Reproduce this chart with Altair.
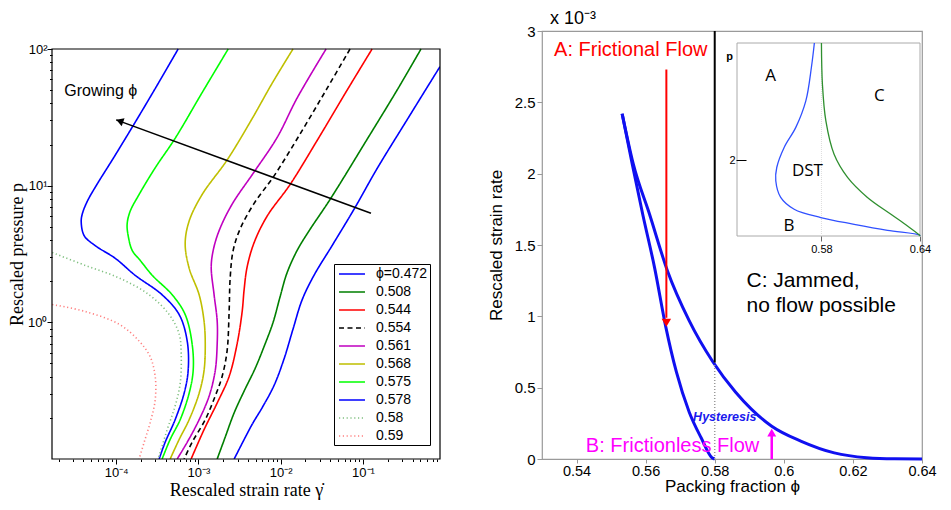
import altair as alt
import pandas as pd

# ---------------- left panel: rescaled pressure p vs rescaled strain rate ----------------
PHI_LABELS = ["ϕ=0.472", "0.508", "0.544", "0.554", "0.561", "0.568", "0.575", "0.578", "0.58", "0.59"]
PHI_COLORS = ["#0000ff", "#007f00", "#ff0000", "#000000", "#c000c0", "#bfbf00",
              "#00ff00", "#0000ff", "#80c080", "#ff8080"]
PHI_DASHES = [[1, 0], [1, 0], [1, 0], [5, 3.5], [1, 0], [1, 0], [1, 0], [1, 0], [1.2, 2.6], [1.2, 2.6]]

G_0472 = [0.862, 0.343, 0.148, 0.0778, 0.0421, 0.0254, 0.0182, 0.0141, 0.0110, 0.00831, 0.00594, 0.00449, 0.00272]
P_0472 = [74.3, 30.3, 13.3, 6.72, 3.64, 2.21, 1.46, 0.891, 0.542, 0.346, 0.237, 0.179, 0.1]
G_0508 = [0.507, 0.259, 0.112, 0.0398, 0.0221, 0.0158, 0.0119, 0.00983, 0.00808, 0.00646, 0.00488, 0.00359, 0.00272, 0.00211, 0.00169]
P_0508 = [100, 49.9, 21.8, 7.93, 4.67, 3.35, 2.29, 1.54, 1.0, 0.695, 0.459, 0.314, 0.218, 0.144, 0.1]
G_0544 = [0.129, 0.0640, 0.0277, 0.0130, 0.00683, 0.00475, 0.00390, 0.00359, 0.00340, 0.00295, 0.00236, 0.00169, 0.00117, 0.000815]
P_0544 = [100, 49.9, 21.4, 10.2, 5.98, 3.83, 2.53, 1.73, 1.20, 0.695, 0.402, 0.257, 0.164, 0.1]
G_0554 = [0.0696, 0.0366, 0.0182, 0.00831, 0.00475, 0.00321, 0.00264, 0.00243, 0.00236, 0.00223, 0.00194, 0.00160, 0.00121, 0.000838, 0.000670]
P_0554 = [100, 51.5, 25.3, 11.8, 7.42, 4.82, 3.35, 2.11, 1.20, 0.619, 0.402, 0.289, 0.194, 0.1326, 0.1]
G_0561 = [0.0356, 0.0158, 0.00904, 0.00475, 0.00256, 0.00178, 0.00151, 0.00143, 0.00155, 0.00169, 0.00169, 0.00160, 0.00135, 0.00102, 0.000730, 0.000551]
P_0561 = [100, 43.7, 22.5, 12.6, 7.30, 4.67, 3.35, 2.53, 1.59, 1.02, 0.695, 0.444, 0.289, 0.194, 0.1326, 0.1]
G_0568 = [0.0141, 0.00785, 0.00449, 0.00223, 0.00111, 0.000771, 0.000690, 0.000771, 0.00102, 0.00117, 0.00121, 0.00117, 0.00102, 0.000771, 0.000583, 0.000453]
P_0568 = [100, 56.0, 30.9, 15.4, 8.62, 5.51, 3.76, 2.49, 1.59, 1.02, 0.695, 0.444, 0.303, 0.194, 0.139, 0.1]
G_0575 = [0.00230, 0.00108, 0.000521, 0.000298, 0.000190, 0.000148, 0.000136, 0.000140, 0.000157, 0.000196, 0.000274, 0.000480, 0.000690, 0.000838, 0.000863, 0.000771, 0.000600, 0.000453, 0.000362]
P_0575 = [100, 46.7, 22.2, 13.5, 8.62, 6.50, 5.24, 4.30, 3.35, 2.84, 2.21, 1.59, 1.14, 0.695, 0.444, 0.303, 0.194, 0.139, 0.1]
G_0578 = [0.000567, 0.000290, 0.000148, 0.0000895, 0.0000589, 0.0000445, 0.0000387, 0.0000376, 0.0000409, 0.0000557, 0.0000975, 0.000170, 0.000362, 0.000583, 0.000730, 0.000750, 0.000670, 0.000521, 0.000394, 0.000333]
P_0578 = [100, 49.9, 25.3, 15.4, 10.3, 7.67, 6.19, 5.42, 4.30, 3.64, 2.94, 2.21, 1.59, 1.14, 0.730, 0.444, 0.303, 0.194, 0.1326, 0.1]
G_0580 = [0.0000167, 0.0000421, 0.000109, 0.000252, 0.000441, 0.000583, 0.000617, 0.000600, 0.000521, 0.000417, 0.000324]
P_0580 = [3.24, 2.61, 2.11, 1.59, 1.14, 0.820, 0.589, 0.358, 0.2446, 0.164, 0.1]
G_0590 = [0.0000167, 0.0000421, 0.000109, 0.000190, 0.000259, 0.000298, 0.000298, 0.000259, 0.000219, 0.000190]
P_0590 = [1.35, 1.20, 0.967, 0.730, 0.560, 0.402, 0.270, 0.1846, 0.1326, 0.1]

LEFT_G = [G_0472, G_0508, G_0544, G_0554, G_0561, G_0568, G_0575, G_0578, G_0580, G_0590]
LEFT_P = [P_0472, P_0508, P_0544, P_0554, P_0561, P_0568, P_0575, P_0578, P_0580, P_0590]

ARROW_G = [0.125, 0.0001]
ARROW_P = [6.29, 30.3]
ARROW_HEAD = (0.000114, 29.5)
GROW_TEXT = ("Growing ϕ", 0.0000234, 49.1)

LX_DOMAIN = [1.66e-5, 0.863]
LY_DOMAIN = [0.1, 100]

# ---------------- right panel: strain rate vs packing fraction ----------------
UP_PHI = [0.5532, 0.5564, 0.5612, 0.5663, 0.5726, 0.5795, 0.5860, 0.5906, 0.5965, 0.6049, 0.6146, 0.6240, 0.6320, 0.6400]
UP_G = [2.42, 2.07, 1.71, 1.32, 0.97, 0.68, 0.47, 0.35, 0.23, 0.126, 0.043, 0.009, 0.001, 0.0]
LO_PHI = [0.5532, 0.5561, 0.5592, 0.5626, 0.5658, 0.5689, 0.5726, 0.5761, 0.5792, 0.5800]
LO_G = [2.42, 2.07, 1.71, 1.34, 0.93, 0.61, 0.33, 0.147, 0.009, 0.0]

PHI_J = 0.58
G_CROSS = 0.677
RED_ARROW = (0.566, 2.73, 0.99, 0.955)     # x, y start, y end, head centre
MAG_ARROW = (0.5965, 0.0, 0.17, 0.185)

RX_DOMAIN = [0.53, 0.64]
RY_DOMAIN = [0.0, 3.0]

# inset
IN_BLUE_PHI = [0.5757, 0.5739, 0.5705, 0.5644, 0.5573, 0.5528, 0.5522, 0.5552, 0.5634, 0.5796, 0.5999, 0.6202, 0.6396, 0.64]
IN_BLUE_P = [5.1, 4.46, 3.57, 2.87, 2.34, 1.81, 1.46, 1.02, 0.707, 0.487, 0.310, 0.151, 0.026, 0.0]
IN_GREEN_PHI = [0.5800, 0.5806, 0.5827, 0.5877, 0.5959, 0.6080, 0.6223, 0.6324, 0.6396, 0.64]
IN_GREEN_P = [5.1, 4.01, 3.04, 2.16, 1.55, 1.02, 0.574, 0.265, 0.026, 0.0]
IN_X_DOMAIN = [0.5286, 0.64]
IN_Y_DOMAIN = [0.0, 5.1]
IN_TEXT = ["A", "C", "DST", "B"]
IN_TEXT_PHI = [0.5491, 0.6152, 0.5715, 0.5603]
IN_TEXT_P = [4.23, 3.71, 1.72, 0.265]

SANS = "Liberation Sans"
SERIF = "Liberation Serif"

# ======================= LEFT CHART =======================
rows = []
for lab, gs, ps in zip(PHI_LABELS, LEFT_G, LEFT_P):
    for i, (g, p) in enumerate(zip(gs, ps)):
        rows.append({"phi": lab, "i": i, "gamma": g, "p": p})
left_df = pd.DataFrame(rows)

X_TICKS = [m * 10.0 ** e for e in range(-5, 0) for m in range(1, 10)
           if LX_DOMAIN[0] <= m * 10.0 ** e <= LX_DOMAIN[1]]
Y_TICKS = [m * 10.0 ** e for e in range(-1, 3) for m in range(1, 10)
           if LY_DOMAIN[0] < m * 10.0 ** e <= LY_DOMAIN[1]]

LEFT_H = 428          # group height; the plot frame occupies its lower part
LEFT_TOP = 18

lxs = alt.Scale(type="log", domain=LX_DOMAIN, nice=False)
lys = alt.Scale(type="log", domain=LY_DOMAIN, nice=False, range=[LEFT_H, LEFT_TOP])

left_x_axis = alt.Axis(
    values=X_TICKS,
    labelExpr="datum.value==0.0001?'10⁻⁴':datum.value==0.001?'10⁻³':datum.value==0.01?'10⁻²':datum.value==0.1?'10⁻¹':''",
    tickSize={"condition": {"test": "indexof([0.0001,0.001,0.01,0.1], datum.value) >= 0", "value": 5}, "value": 2.5},
    tickColor="black", domain=False, grid=False, labelOverlap=False, labelFlush=False,
    labelFont=SANS, labelFontSize=13, labelColor="black", labelPadding=2,
    title="Rescaled strain rate γ̇", titleFont=SERIF, titleFontSize=18, titleFontWeight="normal",
    titleColor="black", titlePadding=2)
left_y_axis = alt.Axis(
    values=Y_TICKS,
    labelExpr="datum.value==1?'10⁰':datum.value==10?'10¹':datum.value==100?'10²':''",
    tickSize={"condition": {"test": "indexof([1,10,100], datum.value) >= 0", "value": 5}, "value": 2.5},
    tickColor="black", domain=False, grid=False, labelOverlap=False, labelFlush=False,
    labelFont=SANS, labelFontSize=13, labelColor="black", labelPadding=0,
    title="Rescaled pressure p", titleFont=SERIF, titleFontSize=18, titleFontWeight="normal",
    titleColor="black", titlePadding=1)

legend_common = dict(orient="none", legendX=282, legendY=233, title=None, strokeColor="black",
                     fillColor="white", padding=2, labelFont=SANS, labelFontSize=14,
                     labelColor="black", symbolType="M-1.857,0H1.857", symbolSize=196,
                     symbolStrokeWidth=1.6, symbolOffset=8, labelOffset=16, rowPadding=3,
                     cornerRadius=0)

curves = alt.Chart(left_df).mark_line(strokeWidth=1.6, interpolate="catmull-rom", clip=True).encode(
    x=alt.X("gamma:Q", scale=lxs, axis=left_x_axis),
    y=alt.Y("p:Q", scale=lys, axis=left_y_axis),
    color=alt.Color("phi:N", scale=alt.Scale(domain=PHI_LABELS, range=PHI_COLORS),
                    sort=PHI_LABELS, legend=alt.Legend(**legend_common)),
    strokeDash=alt.StrokeDash("phi:N", scale=alt.Scale(domain=PHI_LABELS, range=PHI_DASHES),
                              sort=PHI_LABELS, legend=alt.Legend(**legend_common)),
    detail="phi:N",
    order="i:Q",
)

frame_left = alt.Chart(pd.DataFrame({"x": [LX_DOMAIN[0]], "x2": [LX_DOMAIN[1]],
                                     "y": [LY_DOMAIN[0]], "y2": [LY_DOMAIN[1]]})).mark_rect(
    fillOpacity=0, stroke="black", strokeWidth=1.2).encode(
    x=alt.X("x:Q", scale=lxs), x2="x2:Q", y=alt.Y("y:Q", scale=lys), y2="y2:Q")

arrow_df = pd.DataFrame({"gamma": ARROW_G, "p": ARROW_P, "i": [0, 1]})
arrow_line = alt.Chart(arrow_df).mark_line(color="black", strokeWidth=1.5).encode(
    x=alt.X("gamma:Q", scale=lxs), y=alt.Y("p:Q", scale=lys), order="i:Q")
head_df = pd.DataFrame({"gamma": [ARROW_HEAD[0]], "p": [ARROW_HEAD[1]]})
arrow_head = alt.Chart(head_df).mark_point(shape="triangle", filled=True, color="black",
                                           size=70, angle=290, opacity=1).encode(
    x=alt.X("gamma:Q", scale=lxs), y=alt.Y("p:Q", scale=lys))
grow_df = pd.DataFrame({"t": [GROW_TEXT[0]], "gamma": [GROW_TEXT[1]], "p": [GROW_TEXT[2]]})
grow_text = alt.Chart(grow_df).mark_text(align="left", baseline="middle", font=SANS,
                                         fontSize=16, color="black").encode(
    x=alt.X("gamma:Q", scale=lxs), y=alt.Y("p:Q", scale=lys), text="t:N")

left = alt.layer(curves, frame_left, arrow_line, arrow_head, grow_text).properties(
    width=388, height=LEFT_H,
    view=alt.ViewBackground(stroke="transparent"),
)

# ======================= RIGHT CHART =======================
RIGHT_W = 380
RIGHT_H = 428
rxs = alt.Scale(domain=RX_DOMAIN, nice=False, zero=False)
rys = alt.Scale(domain=RY_DOMAIN, nice=False)

right_x_axis = alt.Axis(
    values=[0.54, 0.56, 0.58, 0.6, 0.62, 0.64], labelExpr="'' + datum.value",
    tickSize=4, tickColor="#999", domain=False, grid=False, labelFlush=False, labelOverlap=False,
    labelFont=SANS, labelFontSize=14.5, labelColor="black", labelPadding=1,
    title="Packing fraction ϕ", titleFont=SANS, titleFontSize=17, titleFontWeight="normal",
    titleColor="black", titlePadding=1)
right_y_axis = alt.Axis(
    values=[0, 0.5, 1, 1.5, 2, 2.5, 3], labelExpr="'' + datum.value",
    tickSize=5, tickColor="#999", domain=False, grid=False, labelFlush=False, labelOverlap=False,
    labelFont=SANS, labelFontSize=15, labelColor="black", labelPadding=2,
    title="Rescaled strain rate", titleFont=SANS, titleFontSize=17, titleFontWeight="normal",
    titleColor="black", titlePadding=9)

branch_rows = []
for name, xs, ys in (("upper", UP_PHI, UP_G), ("lower", LO_PHI, LO_G)):
    for i, (a, b) in enumerate(zip(xs, ys)):
        branch_rows.append({"branch": name, "i": i, "phi": a, "g": b})
branch_df = pd.DataFrame(branch_rows)

branches = alt.Chart(branch_df).mark_line(color="#1010f0", strokeWidth=3, interpolate="monotone").encode(
    x=alt.X("phi:Q", scale=rxs, axis=right_x_axis),
    y=alt.Y("g:Q", scale=rys, axis=right_y_axis),
    detail="branch:N", order="i:Q")

jam_line = alt.Chart(pd.DataFrame({"x": [PHI_J], "y": [G_CROSS], "y2": [RY_DOMAIN[1]]})).mark_rule(
    color="black", strokeWidth=2).encode(
    x=alt.X("x:Q", scale=rxs), y=alt.Y("y:Q", scale=rys), y2="y2:Q")
jam_dot = alt.Chart(pd.DataFrame({"x": [PHI_J], "y": [0.0], "y2": [G_CROSS]})).mark_rule(
    color="#999999", strokeWidth=1.5, strokeDash=[1, 2]).encode(
    x=alt.X("x:Q", scale=rxs), y=alt.Y("y:Q", scale=rys), y2="y2:Q")

red_rule = alt.Chart(pd.DataFrame({"x": [RED_ARROW[0]], "y": [RED_ARROW[1]], "y2": [RED_ARROW[2]]})).mark_rule(
    color="#ff0000", strokeWidth=2).encode(x=alt.X("x:Q", scale=rxs), y=alt.Y("y:Q", scale=rys), y2="y2:Q")
red_head = alt.Chart(pd.DataFrame({"x": [RED_ARROW[0]], "y": [RED_ARROW[3]]})).mark_point(
    shape="triangle-down", filled=True, color="#ff0000", size=90, opacity=1).encode(
    x=alt.X("x:Q", scale=rxs), y=alt.Y("y:Q", scale=rys))
mag_rule = alt.Chart(pd.DataFrame({"x": [MAG_ARROW[0]], "y": [MAG_ARROW[1]], "y2": [MAG_ARROW[2]]})).mark_rule(
    color="#ff00ff", strokeWidth=2.5).encode(x=alt.X("x:Q", scale=rxs), y=alt.Y("y:Q", scale=rys), y2="y2:Q")
mag_head = alt.Chart(pd.DataFrame({"x": [MAG_ARROW[0]], "y": [MAG_ARROW[3]]})).mark_point(
    shape="triangle-up", filled=True, color="#ff00ff", size=80, opacity=1).encode(
    x=alt.X("x:Q", scale=rxs), y=alt.Y("y:Q", scale=rys))


def label(text, x, y, color, size, align="left", weight="normal", style="normal"):
    df = pd.DataFrame({"t": [text], "x": [x], "y": [y]})
    return alt.Chart(df).mark_text(align=align, baseline="middle", font=SANS, fontSize=size,
                                   color=color, fontWeight=weight, fontStyle=style).encode(
        x=alt.X("x:Q", scale=rxs), y=alt.Y("y:Q", scale=rys), text="t:N")


txt_a = label("A: Frictional Flow", 0.5335, 2.865, "#ff0000", 20)
txt_c1 = label("C: Jammed,", 0.5892, 1.248, "black", 21)
txt_c2 = label("no flow possible", 0.5892, 1.069, "black", 21)
txt_h = label("Hysteresis", 0.5829, 0.291, "#1a1aee", 12.5, align="center", weight="bold", style="italic")
txt_b = label("B: Frictionless Flow", 0.5427, 0.092, "#ff00ff", 20)

main_right = alt.layer(branches, jam_dot, jam_line, red_rule, red_head, mag_rule, mag_head,
                       txt_a, txt_c1, txt_c2, txt_h, txt_b)

# ----- inset -----
ixs = alt.Scale(domain=IN_X_DOMAIN, range=[195, 378], nice=False, zero=False)
iys = alt.Scale(domain=IN_Y_DOMAIN, range=[205, 12], nice=False, zero=False)
inset_x_axis = alt.Axis(orient="bottom", offset=-(RIGHT_H - 205), values=[0.58, 0.64], labelExpr="'' + datum.value",
                        tickSize=5, tickColor="#666", domain=False, grid=False, labelFlush=False,
                        labelFont=SANS, labelFontSize=11, labelColor="black", labelPadding=2,
                        title=None, zindex=2)
inset_y_axis = alt.Axis(orient="left", offset=-204, values=[2], labelExpr="'2'",
                        tickSize=10, tickColor="black", domain=False, grid=False, labelFlush=False,
                        labelFont=SANS, labelFontSize=11, labelColor="black", labelPadding=1,
                        title=None, zindex=2)

frame_df = pd.DataFrame({"x": [IN_X_DOMAIN[0]], "x2": [IN_X_DOMAIN[1]],
                         "y": [IN_Y_DOMAIN[0]], "y2": [IN_Y_DOMAIN[1]]})
inset_frame = alt.Chart(frame_df).mark_rect(fill="white", stroke="#aaaaaa", strokeWidth=1).encode(
    x=alt.X("x:Q", scale=ixs, axis=inset_x_axis), x2="x2:Q",
    y=alt.Y("y:Q", scale=iys, axis=inset_y_axis), y2="y2:Q")
inset_dot = alt.Chart(pd.DataFrame({"x": [PHI_J], "y": [IN_Y_DOMAIN[0]], "y2": [IN_Y_DOMAIN[1]]})).mark_rule(
    color="#dddddd", strokeWidth=1, strokeDash=[1, 1]).encode(
    x=alt.X("x:Q", scale=ixs), y=alt.Y("y:Q", scale=iys), y2="y2:Q")
blue_df = pd.DataFrame({"phi": IN_BLUE_PHI, "p": IN_BLUE_P, "i": range(len(IN_BLUE_P))})
green_df = pd.DataFrame({"phi": IN_GREEN_PHI, "p": IN_GREEN_P, "i": range(len(IN_GREEN_P))})
inset_blue = alt.Chart(blue_df).mark_line(color="#3050ff", strokeWidth=1.3, interpolate="catmull-rom").encode(
    x=alt.X("phi:Q", scale=ixs), y=alt.Y("p:Q", scale=iys), order="i:Q")
inset_green = alt.Chart(green_df).mark_line(color="#2f8f2f", strokeWidth=1.3, interpolate="catmull-rom").encode(
    x=alt.X("phi:Q", scale=ixs), y=alt.Y("p:Q", scale=iys), order="i:Q")
inset_txt = alt.Chart(pd.DataFrame({"t": IN_TEXT, "x": IN_TEXT_PHI, "y": IN_TEXT_P})).mark_text(
    font="Open Sans", fontSize=17, color="black", baseline="middle", align="center").encode(
    x=alt.X("x:Q", scale=ixs), y=alt.Y("y:Q", scale=iys), text="t:N")
inset_p = alt.Chart(pd.DataFrame({"t": ["p"], "x": [0.5241], "y": [4.72]})).mark_text(
    font=SANS, fontSize=11, fontWeight="bold", color="black", baseline="middle", align="center").encode(
    x=alt.X("x:Q", scale=ixs), y=alt.Y("y:Q", scale=iys), text="t:N")

inset = alt.layer(inset_frame, inset_dot, inset_blue, inset_green, inset_txt, inset_p)

right = alt.layer(main_right, inset).resolve_scale(
    x="independent", y="independent").resolve_axis(x="independent", y="independent").properties(
    width=RIGHT_W, height=RIGHT_H,
    title=alt.TitleParams("x 10⁻³", anchor="start", frame="group", font=SANS, fontSize=18,
                          fontWeight="normal", color="black", offset=-3.5, dx=8),
    view=alt.ViewBackground(stroke="#9a9a9a", strokeWidth=1.2),
)

chart = alt.hconcat(left, right, spacing=44).properties(
    padding={"left": 0, "top": 0, "right": 0, "bottom": 0},
    background="white",
)

chart.save("out.html", embed_options={"renderer": "svg", "actions": False})
